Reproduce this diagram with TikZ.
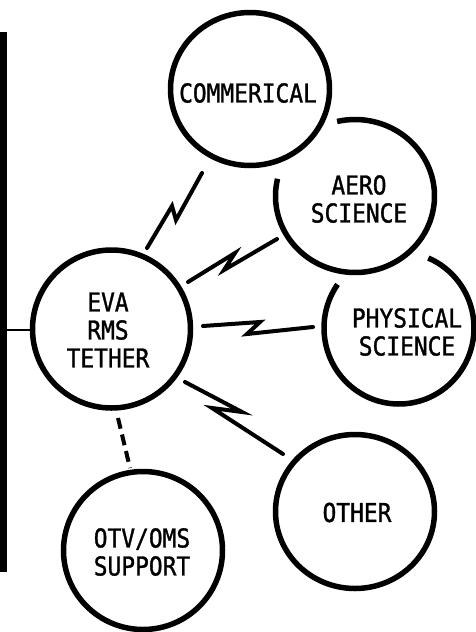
\documentclass[tikz,border=0pt]{standalone}
\usepackage{fontspec}
\newfontfamily\lblfont[FakeStretch=0.88, FakeBold=1.2]{DejaVu Sans Mono}
\usetikzlibrary{shapes.geometric}
\begin{document}
\begin{tikzpicture}[x=1pt,y=1pt,
  ringnode/.style={ellipse, inner sep=0pt, outer sep=0pt, line width=5.5pt},
  ring/.style={line width=5.5pt},
  txt/.style={align=center, inner sep=0pt, font={\lblfont\fontsize{26}{28}\selectfont}},
  bolt/.style={line width=4pt, line join=miter, line cap=round},
  barline/.style={line width=6.5pt},
  tick/.style={line width=2.2pt},
  dashlink/.style={line width=4pt, dash pattern=on 11pt off 6pt}]
\useasboundingbox (0,0) rectangle (476,-632);

% circles
\node[ringnode, draw, minimum width=158pt, minimum height=158pt,
      label={[txt, xshift=-3.5pt, yshift=-1pt]center:EVA\\RMS\\TETHER}] (eva) at (111.5,-329) {};
\node[ringnode, draw, minimum width=159pt, minimum height=153pt,
      label={[txt, xshift=-2pt, yshift=-4pt]center:COMMERICAL}] (com) at (250,-89) {};
\node[ringnode, minimum width=159pt, minimum height=153pt,
      label={[txt, xshift=4pt, yshift=-3pt]center:AERO\\SCIENCE}] (aero) at (355,-196) {};
\node[ringnode, minimum width=150pt, minimum height=152pt,
      label={[txt, xshift=8pt, yshift=-4pt]center:PHYSICAL\\SCIENCE}] (phys) at (399,-328) {};
\node[ringnode, draw, minimum width=159pt, minimum height=154pt,
      label={[txt, xshift=2pt, yshift=-1pt]center:OTHER}] (other) at (355,-511.5) {};
\node[ringnode, draw, minimum width=159pt, minimum height=158pt,
      label={[txt, xshift=-1pt, yshift=-1.5pt]center:OTV/OMS\\SUPPORT}] (otv) at (143,-550.5) {};

% broken rings
\draw[ring] ([shift={(167:79.5 and 76.5)}]aero.center)
  arc[start angle=167, end angle=463, x radius=79.5, y radius=76.5];
\draw[ring] ([shift={(145:75 and 76)}]phys.center)
  arc[start angle=145, end angle=427, x radius=75, y radius=76];

% bar and tick
\coordinate (bartop) at (3.5,-32);
\coordinate (barbot) at (3.5,-572);
\coordinate (barmid) at (3.5,-330);
\draw[barline] (bartop) -- (barbot);
\draw[tick] (barmid) -- (eva.west |- barmid);

% lightning connectors
\coordinate (c1s) at (147,-248); \coordinate (c1a) at (172,-206);
\coordinate (c1b) at (176,-220); \coordinate (c1e) at (202,-173);
\draw[bolt] (c1s) -- (c1a) -- (c1b) -- (c1e);

\coordinate (c2s) at (188,-282); \coordinate (c2a) at (235,-253);
\coordinate (c2b) at (224,-270); \coordinate (c2e) at (277,-239);
\draw[bolt] (c2s) -- (c2a) -- (c2b) -- (c2e);

\coordinate (c3s) at (203,-326); \coordinate (c3a) at (260,-322);
\coordinate (c3b) at (247,-334); \coordinate (c3e) at (313,-327);
\draw[bolt] (c3s) -- (c3a) -- (c3b) -- (c3e);

\coordinate (c4s) at (185,-382); \coordinate (c4a) at (242,-412);
\coordinate (c4b) at (212,-408); \coordinate (c4e) at (283,-454);
\draw[bolt] (c4s) -- (c4a) -- (c4b) -- (c4e);

% dashed link
\coordinate (d1) at (118,-418);
\coordinate (d2) at (130,-468);
\draw[dashlink] (d1) -- (d2);
\end{tikzpicture}
\end{document}
